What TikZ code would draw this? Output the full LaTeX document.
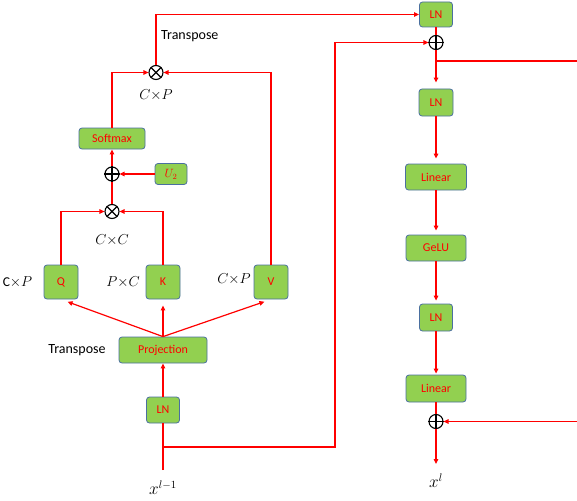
\documentclass[tikz,border=0pt]{standalone}
\usepackage{fontspec}
\setmainfont{Carlito}
\usetikzlibrary{arrows.meta}
\definecolor{boxgreen}{HTML}{92D050}
\definecolor{boxedge}{HTML}{4A6FA0}
\definecolor{linered}{HTML}{FF0000}
\begin{document}
\begin{tikzpicture}[x=1pt,y=-1pt,
  blk/.style={draw=boxedge, fill=boxgreen, rounded corners=3pt, text=linered,
    font=\fontsize{12}{14}\selectfont, minimum width=#1, minimum height=26pt,
    inner sep=0pt, line width=0.8pt},
  blk/.default=34pt,
  ring/.style={circle, draw=black, line width=1.1pt, minimum size=14pt, inner sep=0pt},
  lbl/.style={font=\fontsize{13.5}{15}\selectfont, inner sep=0pt},
  big/.style={font=\fontsize{14}{16}\selectfont, inner sep=0pt},
  bigm/.style={font=\fontsize{16}{18}\selectfont, inner sep=0pt},
  conn/.style={draw=linered, color=linered, line width=1.2pt},
  arr/.style={draw=linered, color=linered, line width=1.2pt, -{Triangle[length=5pt,width=4.5pt]}},
  cross/.style={draw=black, line width=1.1pt}
]
\useasboundingbox (0,0) rectangle (577,500);

% ---------- right column ----------
\node[blk=33pt, minimum height=25pt] (lnA) at (436,14.5) {LN};
\node[ring] (addA) at (436,42.5) {};
\node[blk=34pt, minimum height=27pt] (lnB) at (436,102.5) {LN};
\node[blk=61pt] (linA) at (436,177) {Linear};
\node[blk=60pt] (gelu) at (436,248) {GeLU};
\node[blk=33pt, minimum height=27pt] (lnC) at (436,317.5) {LN};
\node[blk=60pt, minimum height=27pt] (linB) at (436,388.5) {Linear};
\node[ring] (addB) at (436,421.5) {};
\node[bigm] (xl) at (436,481) {$x^{l}$};
\coordinate (xlt) at (436,464);
\coordinate (brR) at (436,61);
\coordinate (edgeA) at (577,61);
\coordinate (edgeB) at (577,421.5);

% ---------- left part ----------
\node[ring] (mulT) at (156,72.5) {};
\node[lbl] (cp1) at (156,95) {$C{\times}P$};
\node[big, anchor=west] (tr1) at (161,36) {Transpose};
\node[blk=66pt, minimum height=21pt] (soft) at (112,138.5) {Softmax};
\node[ring] (addU) at (112,174) {};
\node[blk=32pt, minimum height=21pt] (u2) at (171,174) {$U_2$};
\node[ring] (mulQK) at (112,211.5) {};
\node[lbl] (cc) at (112,240) {$C{\times}C$};
\node[blk=34pt, minimum height=34pt] (q) at (61,282) {Q};
\node[blk=34pt, minimum height=34pt] (k) at (163,282) {K};
\node[blk=34pt, minimum height=34pt] (v) at (271,282) {V};
\node[lbl] (lq) at (17.5,282) {$\mathrm{C}{\times}P$};
\node[lbl] (lk) at (123,282) {$P{\times}C$};
\node[lbl] (lv) at (234,279) {$C{\times}P$};
\node[blk=88pt] (proj) at (163,350) {Projection};
\node[big] (tr2) at (77,350) {Transpose};
\node[blk=33pt] (lnL) at (163,410) {LN};
\node[bigm] (xin) at (163,488) {$x^{l-1}$};
\coordinate (inS) at (163,470);
\coordinate (br) at (163,447);
\coordinate (cornerA) at (335,447);

% ---------- ring contents ----------
\draw[cross] (mulT.north west) -- (mulT.south east) (mulT.north east) -- (mulT.south west);
\draw[cross] (mulQK.north west) -- (mulQK.south east) (mulQK.north east) -- (mulQK.south west);
\draw[cross] (addU.north) -- (addU.south) (addU.west) -- (addU.east);
\draw[cross] (addA.north) -- (addA.south) (addA.west) -- (addA.east);
\draw[cross] (addB.north) -- (addB.south) (addB.west) -- (addB.east);

% ---------- connectors ----------
\draw[arr] (mulT.north) |- (lnA.west);
\draw[arr] (soft.north) |- (mulT.west);
\draw[arr] (v.north) |- (mulT.east);
\draw[arr] (u2.west) -- (addU.east);
\draw[arr] (addU.north) -- (soft.south);
\draw[conn] (mulQK.north) -- (addU.south);
\draw[arr] (q.north) |- (mulQK.west);
\draw[arr] (k.north) |- (mulQK.east);
\draw[arr, shorten >=7pt] (proj.north) -- (q.south);
\draw[arr, shorten >=6pt] (proj.north) -- (k.south);
\draw[arr, shorten >=7pt] (proj.north) -- (v.south);
\draw[arr] (lnL.north) -- (proj.south);
\draw[conn] (inS) -- (lnL.south);
\draw[arr] (br) -- (cornerA) |- (addA.west);

\draw[conn] (lnA.south) -- (addA.north);
\draw[arr, shorten >=6pt] (addA.south) -- (lnB.north);
\draw[conn] (brR) -- (edgeA);
\draw[arr, shorten >=5pt] (lnB.south) -- (linA.north);
\draw[arr, shorten >=4pt] (linA.south) -- (gelu.north);
\draw[arr, shorten >=3pt] (gelu.south) -- (lnC.north);
\draw[arr, shorten >=1pt] (lnC.south) -- (linB.north);
\draw[conn] (linB.south) -- (addB.north);
\draw[arr] (edgeB) -- (addB.east);
\draw[arr] (addB.south) -- (xlt);
\end{tikzpicture}
\end{document}
